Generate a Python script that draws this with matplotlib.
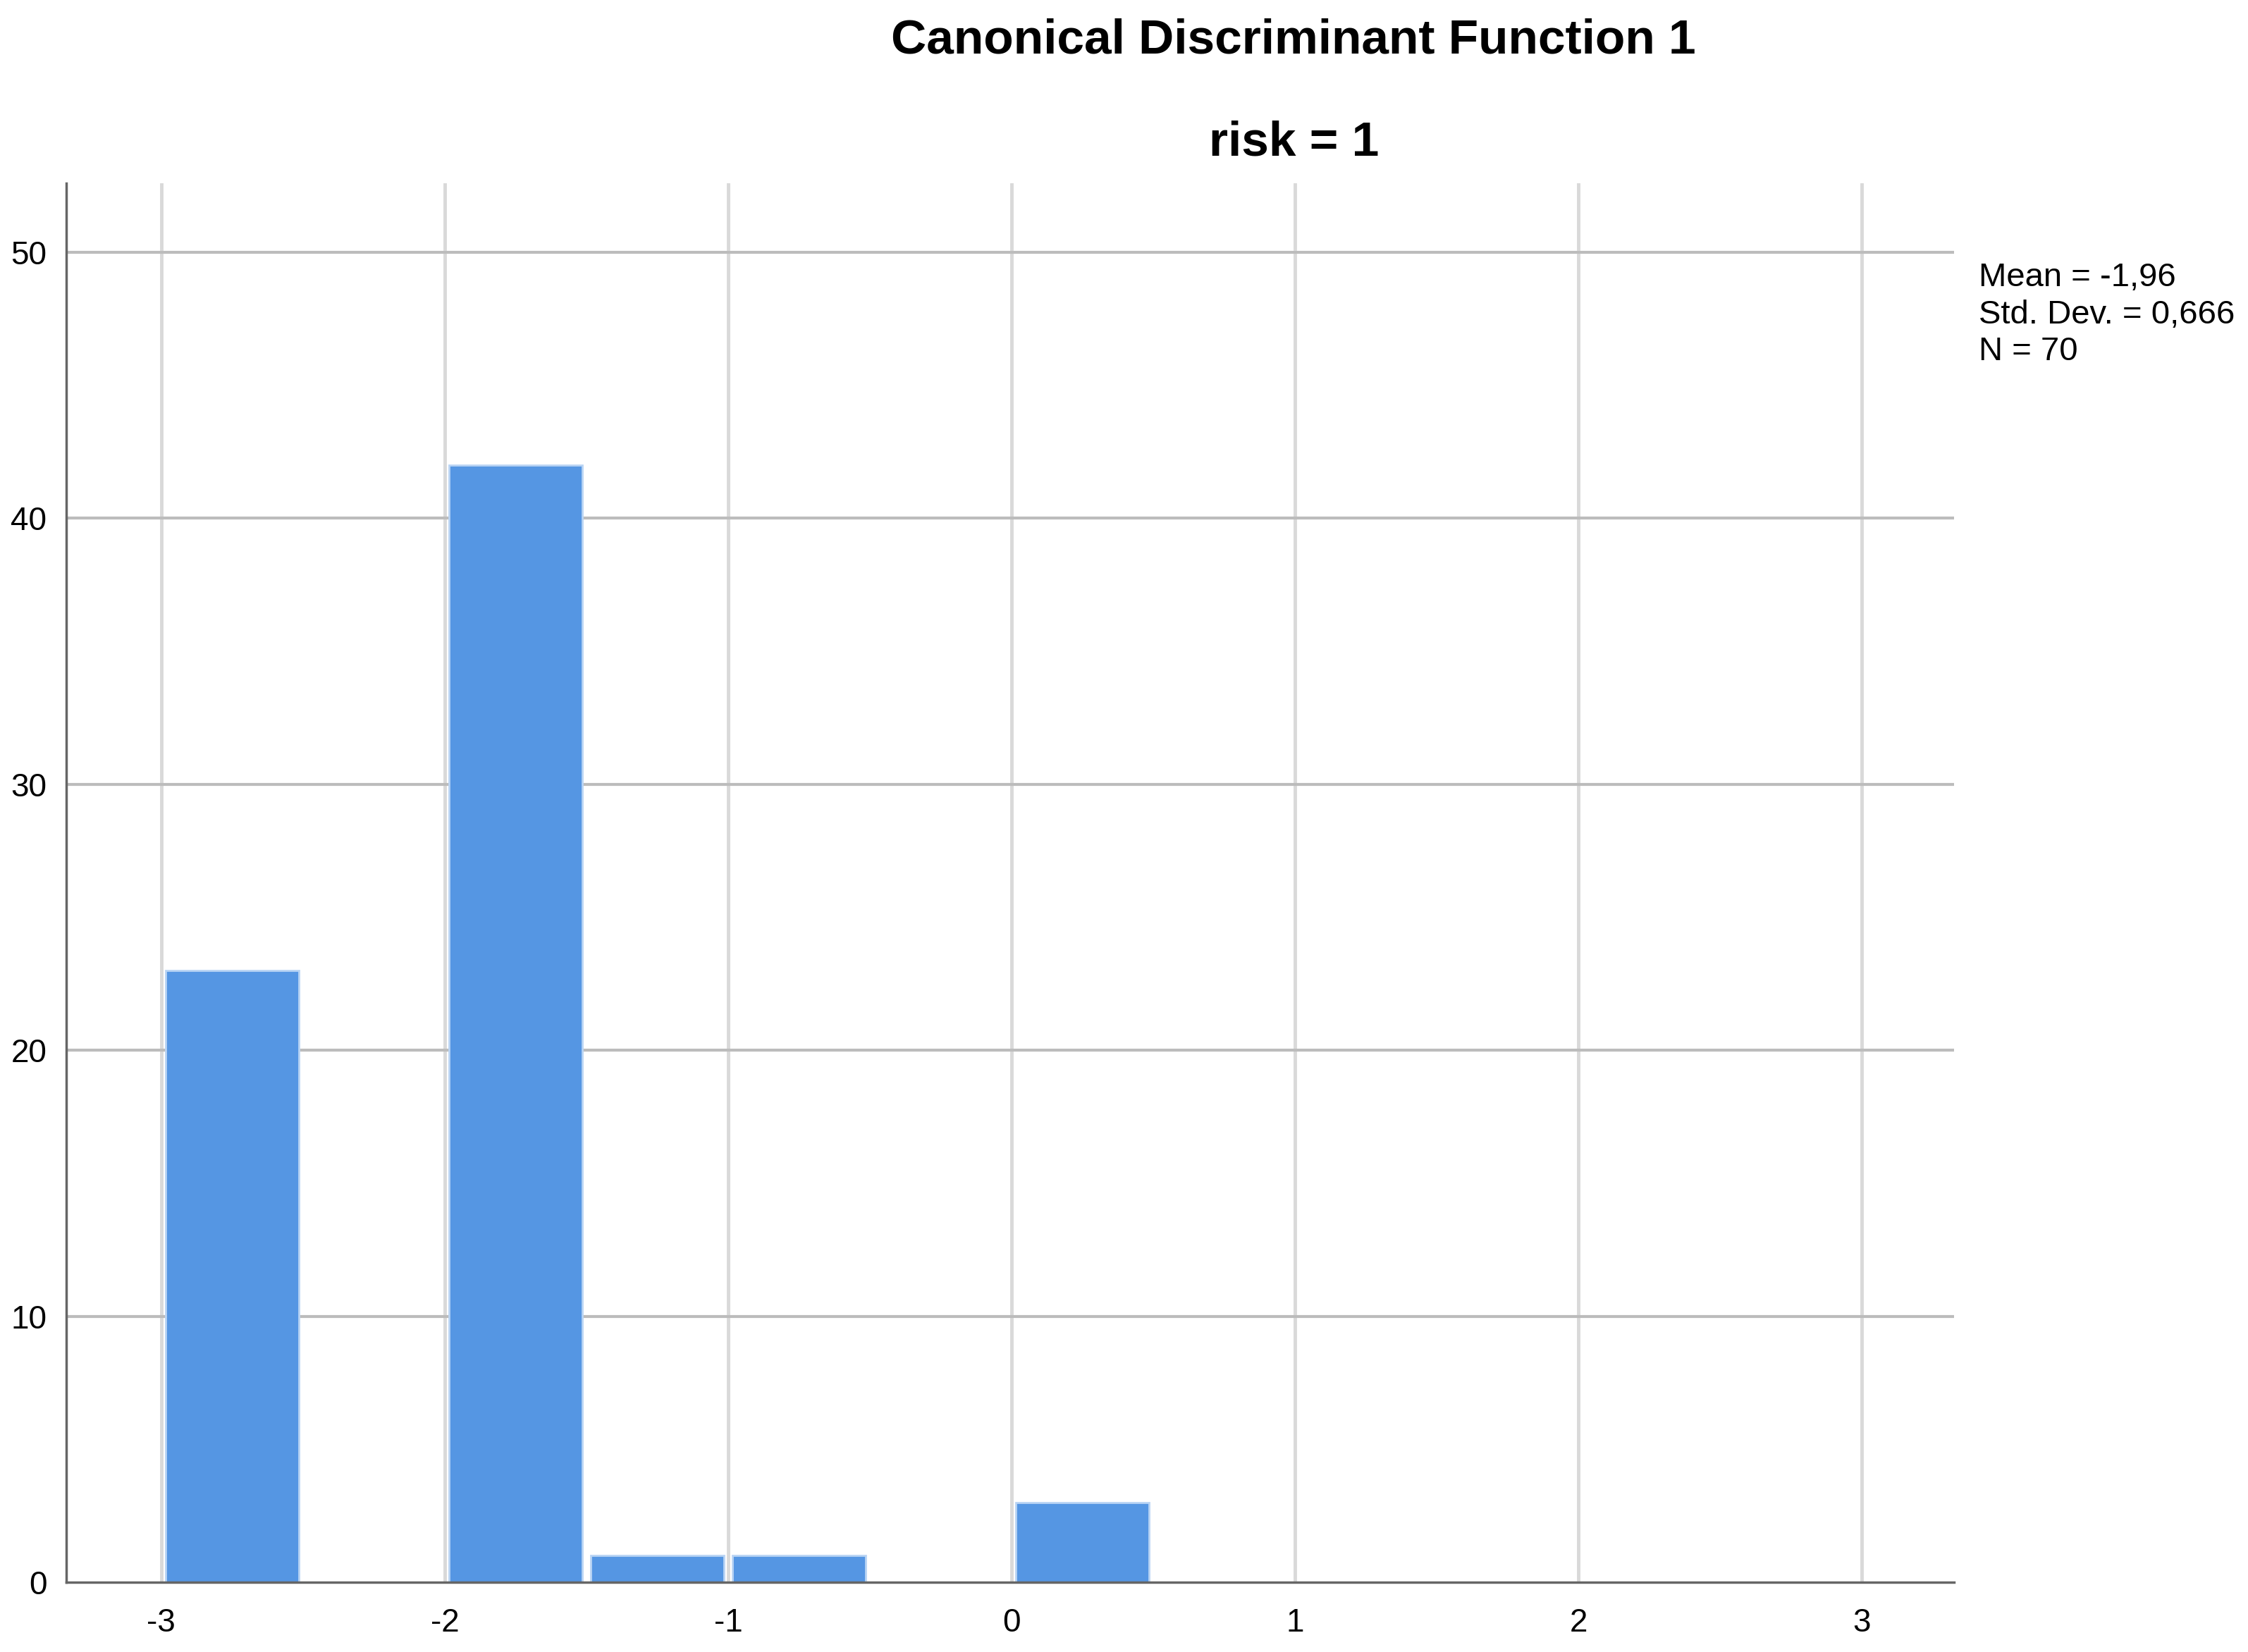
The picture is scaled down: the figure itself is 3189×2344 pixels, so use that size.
import numpy as np
import matplotlib.pyplot as plt

# histogram data (bin width 0.5)
bin_left = [-3.0, -2.0, -1.5, -1.0, 0.0]
counts = [23, 42, 1, 1, 3]
bin_width = 0.5
x_ticks = [-3, -2, -1, 0, 1, 2, 3]
y_ticks = [0, 10, 20, 30, 40, 50]
title = "Canonical Discriminant Function 1"
subtitle = "risk = 1"
stats = ["Mean = -1,96", "Std. Dev. = 0,666", "N = 70"]

plt.rcParams['font.family'] = ['Liberation Sans', 'DejaVu Sans']
plt.rcParams['axes.unicode_minus'] = False

fig = plt.figure(figsize=(31.89, 23.44), dpi=100)
ax = fig.add_axes([0.0295, 0.0422, 0.8397, 0.8469])

# grid: vertical light, horizontal a bit darker
for xt in x_ticks:
    ax.axvline(xt, color='#d9d9d9', lw=3.5, zorder=0)
for yt in y_ticks[1:]:
    ax.axhline(yt, color='#bcbcbc', lw=3, zorder=0)

# bars sit a little inside their bins, leaving a thin white gap
gap = 0.015
ax.bar(np.array(bin_left) + gap, counts, width=bin_width - 2 * gap, align='edge',
       color='#5596e3', edgecolor='#b9d4f4', linewidth=2, zorder=2)

ax.set_xlim(-3.335, 3.325)
ax.set_ylim(0, 52.6)
ax.set_xticks(x_ticks)
ax.set_yticks(y_ticks)
ax.tick_params(length=0, labelsize=33, pad=26)
ax.tick_params(axis='y', pad=20)

for s in ['top', 'right']:
    ax.spines[s].set_visible(False)
for s in ['left', 'bottom']:
    ax.spines[s].set_color('#666666')
    ax.spines[s].set_linewidth(2.5)
    ax.spines[s].set_zorder(3)

fig.text(0.5755, 0.9754, title, ha='center', va='center', fontsize=50, fontweight='bold')
fig.text(0.5755, 0.9134, subtitle, ha='center', va='center', fontsize=50, fontweight='bold')

for i, s in enumerate(stats):
    fig.text(0.8802, 0.832 - i * 0.0225, s, ha='left', va='center', fontsize=34)

fig.savefig('out.png', dpi=100, facecolor='white')
